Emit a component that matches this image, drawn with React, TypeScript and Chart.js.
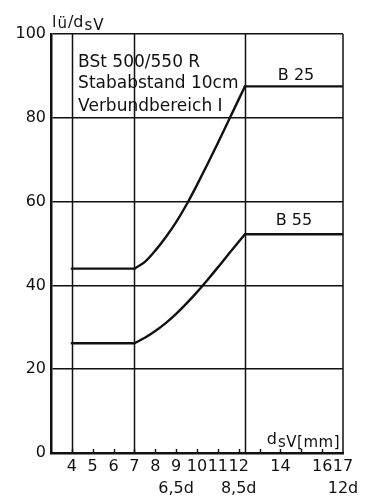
import React, { useEffect, useRef } from "react";
import { Chart, registerables } from "chart.js";

Chart.register(...registerables);

// ---- data ----
const b25X = [4, 7, 7.5, 8, 8.5, 9, 9.5, 10, 10.5, 11, 11.5, 12, 12.3, 17];
const b25Y = [44, 44, 45.6, 48.3, 51.5, 55.1, 59.3, 64.0, 68.9, 74.0, 79.2, 84.4, 87.5, 87.5];
const b55X = [4, 7, 7.5, 8, 8.5, 9, 9.5, 10, 10.5, 11, 11.5, 12, 12.3, 17];
const b55Y = [26.2, 26.2, 27.5, 29.1, 31.0, 33.2, 35.7, 38.4, 41.3, 44.3, 47.4, 50.4, 52.2, 52.2];

const seriesNames = ["B 25", "B 55"];
const verticalGridX = [4, 7, 12.3];
const xLabelValues = [4, 5, 6, 7, 8, 9, 10, 11, 12, 14, 16, 17];
const xSubLabelValues = [9, 12, 17];
const xSubLabelTexts = ["6,5d", "8,5d", "12d"];
const yTickValues = [0, 20, 40, 60, 80, 100];
const infoLines = ["BSt 500/550 R", "Stababstand 10cm", "Verbundbereich I"];

const FONT = "'DejaVu Sans', 'Liberation Sans', sans-serif";
const INK = "#111";

const overlayPlugin = {
  id: "overlay",
  beforeDatasetsDraw(chart: any) {
    const { ctx, chartArea: a, scales } = chart;
    const xs = scales.x;
    ctx.save();
    ctx.strokeStyle = INK;
    ctx.lineWidth = 1.5;
    verticalGridX.forEach((v) => {
      const px = Math.round(xs.getPixelForValue(v)) + 0.5;
      ctx.beginPath();
      ctx.moveTo(px, a.top);
      ctx.lineTo(px, a.bottom);
      ctx.stroke();
    });
    ctx.beginPath();
    ctx.moveTo(a.right, a.top);
    ctx.lineTo(a.right, a.bottom);
    ctx.stroke();
    for (let v = 4; v <= 16; v++) {
      const px = Math.round(xs.getPixelForValue(v)) + 0.5;
      ctx.beginPath();
      ctx.moveTo(px, a.bottom);
      ctx.lineTo(px, a.bottom - 4);
      ctx.stroke();
    }
    ctx.restore();
  },
  afterDraw(chart: any) {
    const { ctx, chartArea: a, scales } = chart;
    const xs = scales.x;
    const ys = scales.y;
    ctx.save();
    ctx.fillStyle = INK;
    ctx.textBaseline = "alphabetic";

    // axis title top-left: l_ü / d_sV
    let x = a.left + 1;
    ctx.font = `16px ${FONT}`;
    ctx.fillText("l", x, 27);
    x += ctx.measureText("l").width + 1;
    ctx.font = `15px ${FONT}`;
    ctx.fillText("ü", x, 28);
    x += ctx.measureText("ü").width + 1;
    ctx.font = `16px ${FONT}`;
    ctx.fillText("/d", x, 27);
    x += ctx.measureText("/d").width + 1;
    ctx.font = `15px ${FONT}`;
    (ctx as any).letterSpacing = "1px";
    ctx.fillText("sV", x, 30);
    (ctx as any).letterSpacing = "0px";

    // x axis title bottom-right inside plot
    ctx.font = `16px ${FONT}`;
    const wD = ctx.measureText("d").width + 1;
    ctx.font = `15px ${FONT}`;
    (ctx as any).letterSpacing = "0.5px";
    const wS = ctx.measureText("sV[mm]").width;
    const bx = a.right - 3 - wD - wS;
    ctx.fillText("sV[mm]", bx + wD, a.bottom - 6);
    (ctx as any).letterSpacing = "0px";
    ctx.font = `16px ${FONT}`;
    ctx.fillText("d", bx, a.bottom - 9);

    // info block
    ctx.font = `17px ${FONT}`;
    const ix = xs.getPixelForValue(4.3);
    const baselines = [92.2, 87.1, 81.6];
    infoLines.forEach((t, i) => {
      ctx.fillText(t, ix, ys.getPixelForValue(baselines[i]));
    });

    // series labels
    ctx.font = `16px ${FONT}`;
    ctx.textAlign = "center";
    ctx.textBaseline = "middle";
    ctx.fillText(seriesNames[0], xs.getPixelForValue(14.75), ys.getPixelForValue(90));
    ctx.fillText(seriesNames[1], xs.getPixelForValue(14.65), ys.getPixelForValue(55.3));
    ctx.restore();
  },
};

function flatPart(xsArr: number[], ysArr: number[]) {
  const n = xsArr.length;
  return [
    { x: xsArr[0], y: ysArr[0] },
    { x: xsArr[1], y: ysArr[1] },
    { x: xsArr[2], y: null },
    { x: xsArr[n - 2], y: ysArr[n - 2] },
    { x: xsArr[n - 1], y: ysArr[n - 1] },
  ];
}

function curvePart(xsArr: number[], ysArr: number[]) {
  const pts = xsArr.map((x, i) => ({ x, y: ysArr[i] }));
  return pts.slice(1, pts.length - 1);
}

export default function App() {
  const ref = useRef<HTMLCanvasElement | null>(null);

  useEffect(() => {
    document.body.style.margin = "0";
    document.body.style.background = "#fff";
    const canvas = ref.current;
    if (!canvas) return;
    const common = {
      borderColor: INK,
      borderWidth: 2.4,
      pointRadius: 0,
      borderJoinStyle: "round",
      borderCapStyle: "round",
      spanGaps: false,
    };
    const chart = new Chart(canvas, {
      type: "line",
      data: {
        datasets: [
          { label: seriesNames[0], data: flatPart(b25X, b25Y), tension: 0, ...common },
          { label: seriesNames[0], data: curvePart(b25X, b25Y), cubicInterpolationMode: "monotone", ...common },
          { label: seriesNames[1], data: flatPart(b55X, b55Y), tension: 0, ...common },
          { label: seriesNames[1], data: curvePart(b55X, b55Y), cubicInterpolationMode: "monotone", ...common },
        ],
      },
      options: {
        responsive: false,
        animation: false,
        layout: { padding: { top: 34, right: 24, left: 0, bottom: 0 } },
        plugins: {
          legend: { display: false },
          tooltip: { enabled: false },
          title: { display: false },
        },
        scales: {
          x: {
            type: "linear",
            min: 3,
            max: 17,
            afterFit: (s: any) => {
              s.height = 43;
            },
            afterBuildTicks: (s: any) => {
              s.ticks = xLabelValues.map((v) => ({ value: v }));
            },
            grid: { display: false, drawTicks: false },
            border: { display: true, color: INK, width: 2.5 },
            ticks: {
              autoSkip: false,
              maxRotation: 0,
              padding: 3,
              color: INK,
              font: { family: FONT, size: 16, lineHeight: 1.35 },
              callback: (v: any) => {
                const idx = xSubLabelValues.indexOf(v);
                return idx >= 0 ? [String(v), xSubLabelTexts[idx]] : String(v);
              },
            },
          },
          y: {
            type: "linear",
            min: 0,
            max: 100,
            afterFit: (s: any) => {
              s.width = 51;
            },
            afterBuildTicks: (s: any) => {
              s.ticks = yTickValues.map((v) => ({ value: v }));
            },
            grid: { color: INK, lineWidth: 1.5, drawTicks: false },
            border: { display: true, color: INK, width: 2.5 },
            ticks: {
              padding: 5,
              color: INK,
              font: { family: FONT, size: 16 },
            },
          },
        },
      },
      plugins: [overlayPlugin],
    } as any);
    return () => chart.destroy();
  }, []);

  return (
    <canvas ref={ref} width={367} height={496} style={{ display: "block" }} />
  );
}
